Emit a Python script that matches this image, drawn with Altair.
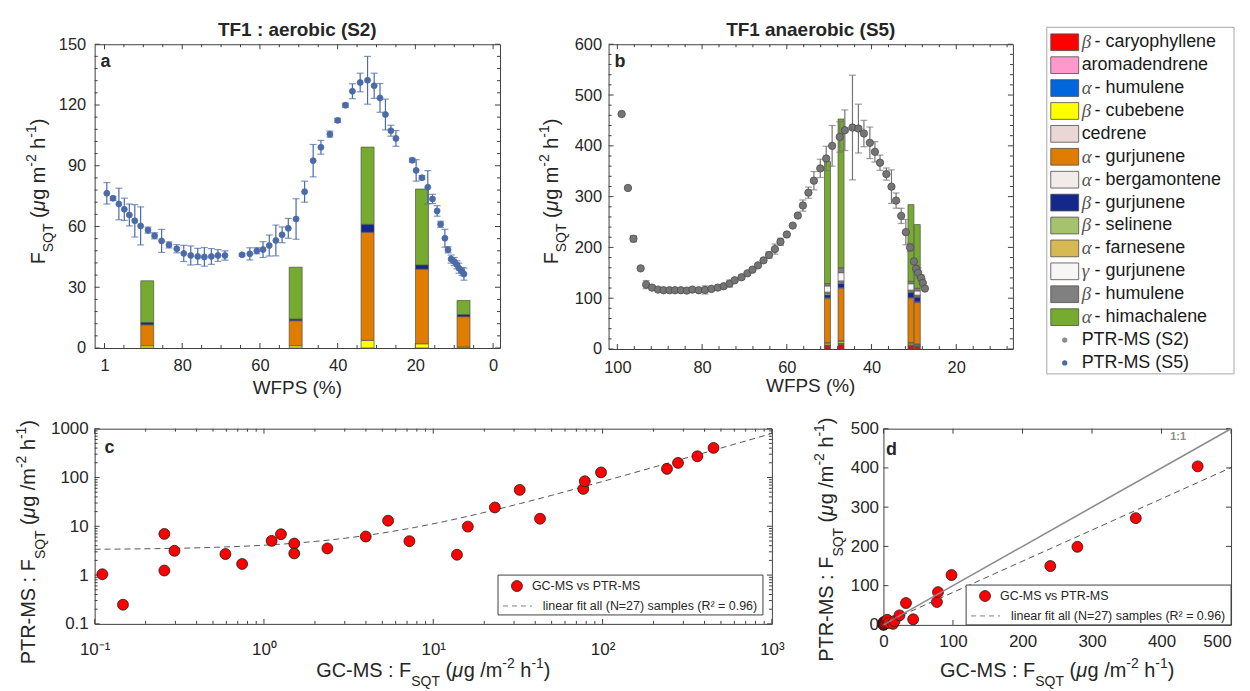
import altair as alt
import pandas as pd
import numpy as np

FONT = "Liberation Sans"
INK = "#262626"
FRAME = "#404040"

# ---------------- data ----------------
species = ["β - caryophyllene", "aromadendrene", "α - humulene", "β - cubebene", "cedrene",
           "α - gurjunene", "α - bergamontene", "β - gurjunene", "β - selinene", "α - farnesene",
           "γ - gurjunene", "β - humulene", "α - himachalene"]
species_colors = ["#FF0000", "#FF99CC", "#0066DD", "#FFFF00", "#EBD6D6", "#E07C00", "#F3EAEA",
                  "#13288A", "#A5C26F", "#D6B950", "#F8F5F5", "#808080", "#76AB2F"]
legend_greek = ["β", "", "α", "β", "", "α", "α", "β", "β", "α", "γ", "β", "α", "", ""]
legend_names = ["- caryophyllene", "aromadendrene", "- humulene", "- cubebene", "cedrene",
                "- gurjunene", "- bergamontene", "- gurjunene", "- selinene", "- farnesene",
                "- gurjunene", "- humulene", "- himachalene", "PTR-MS (S2)", "PTR-MS (S5)"]

# panel a : PTR-MS S2 (aerobic)
a_wfps = [99.4, 97.8, 96.3, 94.9, 93.6, 92.2, 90.7, 88.8, 87.1, 85.3,
          83.4, 81.4, 79.6, 77.8, 76.0, 74.3, 72.5, 70.8, 69.0, 64.6,
          62.6, 60.8, 59.2, 57.6, 55.9, 54.3, 52.7, 50.7, 48.5, 46.3,
          44.3, 42.0, 40.0, 38.0, 36.2, 34.2, 32.3, 30.6, 29.1, 27.7,
          26.3, 25.0, 20.8, 19.8, 18.3, 16.8, 15.6, 14.4, 13.5, 12.4,
          11.6, 10.8, 10.0, 9.3, 8.8, 8.0, 7.5]
a_flux = [76.4, 73.9, 71.1, 68.5, 65.7, 62.8, 60.3, 58.2, 55.4, 52.9,
          50.9, 49.0, 46.7, 45.7, 45.2, 45.0, 45.2, 45.7, 45.7, 46.0,
          46.5, 48.0, 48.6, 50.6, 53.1, 55.9, 59.1, 63.7, 77.2, 92.5,
          99.1, 105.6, 112.4, 119.9, 126.8, 131.1, 132.2, 129.5, 123.5, 115.3,
          107.3, 103.5, 92.7, 87.7, 84.1, 79.4, 73.6, 67.7, 61.1, 54.2,
          48.5, 43.9, 42.7, 41.1, 39.4, 37.8, 36.5]
a_err = [5.3, 1.0, 7.8, 5.5, 5.4, 8.0, 9.4, 1.5, 1.5, 5.7,
         1.5, 2.0, 4.0, 4.7, 4.0, 4.6, 3.9, 2.9, 2.3, 0.6,
         3.0, 1.5, 3.9, 5.2, 7.6, 3.9, 4.9, 10.0, 5.2, 8.0,
         3.4, 1.5, 1.0, 1.0, 3.7, 4.6, 11.8, 6.2, 7.1, 7.6,
         2.7, 3.9, 1.0, 5.3, 1.0, 8.2, 2.3, 2.6, 1.5, 4.4,
         1.5, 2.0, 2.0, 2.0, 2.5, 2.0, 3.0]
a_bar_wfps = [89.0, 50.8, 32.3, 18.3, 7.6]
a_bar_values = [
    [0, 0, 0, 0, 0], [0, 0, 0, 0, 0], [0, 0, 0, 0, 0],
    [1.1, 1.1, 3.8, 2.1, 0.5], [0, 0, 0, 0, 0],
    [10.4, 12.4, 53.4, 36.9, 15.0], [0, 0, 0, 0, 0],
    [1.1, 0.8, 3.9, 2.0, 1.0], [0, 0, 0, 0, 0], [0, 0, 0, 0, 0],
    [0, 0, 0, 0, 0], [0, 0, 0, 0, 0],
    [20.6, 25.6, 38.1, 37.5, 7.0]]

# panel b : PTR-MS S5 (anaerobic)
b_wfps = [99.0, 97.5, 96.2, 94.5, 93.2, 91.8, 90.4, 89.1, 87.7, 86.4,
          85.0, 83.6, 82.3, 80.8, 79.3, 77.8, 76.3, 74.9, 73.5, 72.3,
          70.7, 69.3, 68.1, 66.8, 65.5, 64.2, 62.8, 61.5, 60.0, 58.6,
          57.4, 56.2, 54.9, 53.6, 52.1, 50.7, 49.3, 47.5, 46.3, 44.5,
          43.1, 41.8, 40.4, 39.2, 38.0, 36.5, 35.3, 34.2, 33.0, 31.9,
          30.9, 30.0, 29.5, 29.0, 28.3, 27.9, 27.4]
b_flux = [462.7, 317.0, 217.0, 158.8, 126.8, 120.9, 117.0, 115.7, 115.7, 115.7,
          115.7, 115.0, 117.0, 115.7, 116.3, 118.3, 120.9, 123.5, 128.8, 135.3,
          141.2, 149.0, 156.2, 164.7, 174.5, 185.0, 196.7, 211.1, 225.5, 243.0,
          262.7, 282.4, 307.8, 331.4, 355.6, 375.2, 400.0, 417.6, 430.7, 436.0,
          434.0, 424.2, 405.9, 388.2, 366.7, 344.4, 319.6, 292.2, 262.1, 230.1,
          200.0, 172.5, 158.0, 150.0, 140.0, 130.0, 119.0]
b_err = [3, 0, 6, 0, 8, 4, 0, 0, 0, 0,
         0, 0, 0, 0, 8, 0, 0, 0, 7, 0,
         0, 0, 0, 0, 0, 6, 10, 7, 0, 0,
         0, 11, 11, 18, 18, 24, 40, 30, 40, 103,
         48, 26, 31, 20, 15, 12, 33, 15, 15, 25,
         8, 0, 8, 10, 6, 8, 0]
b_bar_wfps = [50.4, 47.2, 30.7, 29.2]
b_bar_values = [
    [6, 9, 6, 5], [1, 1.5, 1.5, 1], [1, 1, 1, 0.8], [2.5, 3, 2.5, 2], [2, 1.8, 2, 1],
    [86.8, 103.3, 87, 81.7], [1.5, 1.5, 1.5, 1.5], [5.7, 7.5, 10, 9], [3, 3, 2.5, 2],
    [2.5, 2.5, 2, 2], [12.2, 16.2, 12.5, 8.4], [4.6, 9.7, 4.5, 5.2],
    [240.2, 292.9, 151.3, 125.4]]

# panels c / d : GC-MS vs PTR-MS
gc_flux = [0.111, 0.147, 0.258, 0.258, 0.296, 0.592, 0.743, 1.11, 1.26, 1.51,
           1.51, 2.37, 3.99, 5.41, 7.23, 13.8, 16.0, 23.1, 32.4, 42.7,
           76.9, 78.5, 97.9, 240.0, 279.0, 363.0, 452.0]
ptr_flux = [1.04, 0.247, 6.98, 1.24, 3.15, 2.70, 1.69, 5.03, 6.88, 4.43,
            2.78, 3.51, 6.17, 13.0, 4.95, 2.61, 9.85, 24.3, 55.7, 14.3,
            58.3, 83.6, 127.0, 150.0, 199.0, 272.0, 404.0]
fit_slope = 0.795
fit_intercept = 3.3

BLUE = "#4A6AA8"
GRAY = "#757575"

# ---------------- helpers ----------------
AW = {' ': 278, '(': 333, ')': 333, '-': 333, '/': 278, ':': 278, '%': 889, '=': 584, '.': 278,
      'A': 667, 'C': 722, 'F': 611, 'G': 778, 'M': 833, 'P': 667, 'Q': 778, 'R': 722, 'S': 667,
      'T': 611, 'W': 944, 'g': 556, 'h': 556, 'm': 833, 'μ': 576}


def tw(s, size):
    return sum(AW.get(ch, 556) for ch in s) * size / 1000.0


def one(text):
    return alt.Chart(pd.DataFrame({"t": [text]}))


def txt(text, x, y, size, angle=0, style="normal", weight="normal", align="left",
        baseline="alphabetic", color=INK, font=FONT):
    mk = dict(align=align, baseline=baseline, font=font, fontSize=size, fontStyle=style,
              fontWeight=weight, color=color)
    if angle:
        mk["angle"] = angle
    return one(text).mark_text(**mk).encode(x=alt.value(x), y=alt.value(y), text="t:N")


def rich(segments, x0, y0, vertical, center=False):
    total = sum(tw(s[0], s[1]) for s in segments)
    pos = -total / 2 if center else 0.0
    out = []
    for seg in segments:
        t, size, shift = seg[0], seg[1], seg[2]
        style = seg[3] if len(seg) > 3 else "normal"
        lead = len(t) - len(t.lstrip(" "))
        trail = len(t) - len(t.rstrip(" "))
        core = t.strip(" ")
        pos += lead * 0.278 * size
        if vertical:
            out.append(txt(core, x0 + shift, y0 - pos, size, angle=270, style=style))
        else:
            out.append(txt(core, x0 + pos, y0 + shift, size, style=style))
        pos += tw(core, size) + trail * 0.278 * size
    return out


def anchor(x1, y1, x2, y2):
    return one("").mark_rect(opacity=0).encode(
        x=alt.value(x1), x2=alt.value(x2), y=alt.value(y1), y2=alt.value(y2))


def axis(values, size, pad, expr=None, align=None):
    kw = dict(values=values, ticks=False, domain=False, grid=False, labelFont=FONT,
              labelFontSize=size, labelColor=INK, labelPadding=pad, labelOverlap=False,
              labelFlush=False)
    if expr:
        kw["labelExpr"] = expr
    if align:
        kw["labelAlign"] = align
    return alt.Axis(**kw)


class Frame:
    """x / y encodings that share one scale and one axis definition per panel."""

    def __init__(self, xs, ax, ys, ay, W, H):
        self.xs, self.ax, self.ys, self.ay, self.W, self.H = xs, ax, ys, ay, W, H

    def X(self, f):
        return alt.X(f, scale=self.xs, axis=self.ax, title=None)

    def Y(self, f):
        return alt.Y(f, scale=self.ys, axis=self.ay, title=None)

    def ticks(self, xmaj, xmin, ymaj, ymin):
        out = []
        W, H = self.W, self.H
        for vals, ln in ((xmaj, 5), (xmin, 3)):
            if vals:
                base = alt.Chart(pd.DataFrame({"v": vals})).mark_rule(color=FRAME, strokeWidth=1)
                out.append(base.encode(x=self.X("v:Q"), y=alt.value(H), y2=alt.value(H - ln)))
                out.append(base.encode(x=self.X("v:Q"), y=alt.value(0), y2=alt.value(ln)))
        for vals, ln in ((ymaj, 5), (ymin, 3)):
            if vals:
                base = alt.Chart(pd.DataFrame({"v": vals})).mark_rule(color=FRAME, strokeWidth=1)
                out.append(base.encode(y=self.Y("v:Q"), x=alt.value(0), x2=alt.value(ln)))
                out.append(base.encode(y=self.Y("v:Q"), x=alt.value(W), x2=alt.value(W - ln)))
        return out


def stack_df(wfps, values):
    rows = []
    for j, w in enumerate(wfps):
        base = 0.0
        for i, sp in enumerate(species):
            v = values[i][j]
            if v > 0:
                rows.append(dict(wfps=w, species=sp, idx=i, lo=base, hi=base + v))
            base += v
    return pd.DataFrame(rows)


def point_df(w, f, e):
    d = pd.DataFrame({"wfps": w, "flux": f, "err": e})
    d["lo"] = d["flux"] - d["err"]
    d["hi"] = d["flux"] + d["err"]
    return d


color_scale = alt.Scale(domain=species, range=species_colors)
YT_AB = [("F", 20, 0), ("SQT", 14, 8), (" (", 20, 0), ("μ", 20, 0, "italic"), ("g m", 20, 0),
         ("-2", 14, -9), (" h", 20, 0), ("-1", 14, -9), (")", 20, 0)]
YT_CD = [("PTR-MS : F", 20, 0), ("SQT", 14, 10), (" (", 20, 0), ("μ", 20, 0, "italic"), ("g /m", 20, 0),
         ("-2", 14, -9), (" h", 20, 0), ("-1", 14, -9), (")", 20, 0)]
XT_CD = [("GC-MS : F", 20, 0), ("SQT", 14, 9), (" (", 20, 0), ("μ", 20, 0, "italic"), ("g /m", 20, 0),
         ("-2", 14, -9), (" h", 20, 0), ("-1", 14, -9), (")", 20, 0)]


def wfps_panel(W, H, xs, ys, xvals, xexpr, yvals, xmin, ymin, pts, bars, pcolor, psize, pstroke,
               bar_w, title, letter, ypad, xpad, yt_x, anchor_box, xt_y):
    fr = Frame(xs, axis(xvals, 16.5, xpad, xexpr), ys, axis(yvals, 16.5, ypad), W, H)
    layers = [anchor(*anchor_box)]
    layers += fr.ticks(xvals, xmin, yvals, ymin)
    layers.append(alt.Chart(bars).mark_bar(size=bar_w, stroke="#505050", strokeWidth=0.7).encode(
        x=fr.X("wfps:Q"), y=fr.Y("lo:Q"), y2="hi:Q",
        color=alt.Color("species:N", scale=color_scale, legend=None)))
    e = pts[pts["err"] > 0]
    layers.append(alt.Chart(e).mark_rule(color=pcolor, strokeWidth=1.2).encode(
        x=fr.X("wfps:Q"), y=fr.Y("lo:Q"), y2="hi:Q"))
    for c in ("lo", "hi"):
        layers.append(alt.Chart(e).mark_tick(color=pcolor, orient="horizontal", size=7, thickness=1.2).encode(
            x=fr.X("wfps:Q"), y=fr.Y(c + ":Q")))
    layers.append(alt.Chart(pts).mark_point(filled=True, fill=pcolor, stroke=pstroke, strokeWidth=0.8,
                                            opacity=1, size=psize).encode(
        x=fr.X("wfps:Q"), y=fr.Y("flux:Q")))
    layers.append(txt(title, W / 2, -8.4, 19, weight="bold", align="center"))
    layers.append(txt(letter, 6, 23, 18, weight="bold"))
    layers.append(txt("WFPS (%)", W / 2, xt_y, 19, align="center"))
    layers += rich(YT_AB, yt_x, 221, True)
    return alt.layer(*layers).properties(width=W, height=H)


# ---------------- panel a ----------------
WA, HA = 407, 305
xa = alt.Scale(domain=[-0.5, 101.25], reverse=True, nice=False, zero=False)
ya = alt.Scale(domain=[0, 150], nice=False, zero=False)
panel_a = wfps_panel(
    WA, HA, xa, ya, [100, 80, 60, 40, 20, 0], "datum.value == 100 ? '1' : datum.label",
    [0, 30, 60, 90, 120, 150], [v for v in range(5, 100, 5) if v % 20],
    [v for v in range(6, 150, 6) if v % 30],
    point_df(a_wfps, a_flux, a_err), stack_df(a_bar_wfps, a_bar_values), BLUE, 36, BLUE, 13,
    "TF1 : aerobic (S2)", "a", 9, 10, -50, (-84, -34, 428, 364), 351.3)

# ---------------- panel b ----------------
WB, HB = 406, 306
xb = alt.Scale(domain=[7.8, 100.9], reverse=True, nice=False, zero=False)
yb = alt.Scale(domain=[0, 600], nice=False, zero=False)
panel_b = wfps_panel(
    WB, HB, xb, yb, [100, 80, 60, 40, 20], None, [0, 100, 200, 300, 400, 500, 600],
    [v for v in range(8, 100, 4) if v % 20], [v for v in range(20, 600, 20) if v % 100],
    point_df(b_wfps, b_flux, b_err), stack_df(b_bar_wfps, b_bar_values), GRAY, 55, "#4d4d4d", 6,
    "TF1 anaerobic (S5)", "b", 7, 10.5, -51, (-86, -34, 424, 364), 349)

# ---------------- legend panel (origin aligned with panel tops at y=42) ----------------
WL, HL = 188, 306
BOX_TOP, BOX_BOTTOM = -17, 331
leg = pd.DataFrame({"i": list(range(len(legend_names))), "greek": legend_greek, "name": legend_names,
                    "species": species + ["", ""]})
yl = alt.Scale(domain=[2 / 23, 2 / 23 + HL / 23], reverse=True, nice=False, zero=False)
swatch = "M-1,-0.6L1,-0.6L1,0.6L-1,0.6Z"
leg_layers = [
    anchor(-15, -34, 196, 364),
    one("").mark_rect(fill="white", stroke="#a6a6a6", strokeWidth=1).encode(
        x=alt.value(0), x2=alt.value(WL), y=alt.value(BOX_TOP), y2=alt.value(BOX_BOTTOM)),
    alt.Chart(leg[leg.i < 13]).mark_point(shape=swatch, size=784, filled=True, opacity=1,
                                          stroke="#4d4d4d", strokeWidth=0.8).encode(
        x=alt.value(18), y=alt.Y("i:Q", scale=yl, axis=None),
        color=alt.Color("species:N", scale=color_scale, legend=None)),
    alt.Chart(leg[leg.i == 13]).mark_point(filled=True, size=28, opacity=1, fill="#8c8c8c", strokeWidth=0).encode(
        x=alt.value(18), y=alt.Y("i:Q", scale=yl, axis=None)),
    alt.Chart(leg[leg.i == 14]).mark_point(filled=True, size=28, opacity=1, fill=BLUE, strokeWidth=0).encode(
        x=alt.value(18), y=alt.Y("i:Q", scale=yl, axis=None)),
    alt.Chart(leg[leg.greek != ""]).mark_text(align="left", baseline="middle", font="Liberation Serif",
                                             fontStyle="italic", fontSize=19, color="#555555").encode(
        x=alt.value(35), y=alt.Y("i:Q", scale=yl, axis=None), text="greek:N"),
    alt.Chart(leg[leg.greek != ""]).mark_text(align="left", baseline="middle", font=FONT,
                                             fontSize=18, color="#1a1a1a").encode(
        x=alt.value(48), y=alt.Y("i:Q", scale=yl, axis=None), text="name:N"),
    alt.Chart(leg[leg.greek == ""]).mark_text(align="left", baseline="middle", font=FONT,
                                             fontSize=18, color="#1a1a1a").encode(
        x=alt.value(35), y=alt.Y("i:Q", scale=yl, axis=None), text="name:N"),
]
legend_panel = alt.layer(*leg_layers).properties(
    width=WL, height=HL, view=alt.ViewBackground(strokeOpacity=0))

# ---------------- panel c ----------------
WC, HC = 680, 196
xc = alt.Scale(type="log", domain=[0.1, 1000], nice=False)
yc = alt.Scale(type="log", domain=[0.1, 1000], nice=False)
decades = [0.1, 1, 10, 100, 1000]
log_minor = [k * 10.0 ** e for e in range(-1, 3) for k in range(2, 10)]
gcdf = pd.DataFrame({"gc": gc_flux, "ptr": ptr_flux})
fit_x = np.logspace(-1, 3, 90)
fitdf_c = pd.DataFrame({"gc": fit_x, "ptr": fit_slope * fit_x + fit_intercept})


def fit_legend(x0, y0):
    return [
        one("").mark_rect(fill="white", stroke=FRAME, strokeWidth=1).encode(
            x=alt.value(x0), x2=alt.value(x0 + 266), y=alt.value(y0), y2=alt.value(y0 + 40)),
        one("").mark_point(filled=True, fill="#FF0000", stroke="#1a1a1a", strokeWidth=0.8, opacity=1,
                           size=120).encode(x=alt.value(x0 + 19), y=alt.value(y0 + 11)),
        txt("GC-MS vs PTR-MS", x0 + 34, y0 + 11, 12.5, baseline="middle"),
        one("").mark_rule(color="#7f7f7f", strokeDash=[5, 4], strokeWidth=1).encode(
            x=alt.value(x0 + 5), x2=alt.value(x0 + 34), y=alt.value(y0 + 31)),
        txt("linear fit all (N=27) samples (R² = 0.96)", x0 + 45, y0 + 31, 12.5, baseline="middle"),
    ]


frc = Frame(xc, axis(decades, 17, 18,
                     "datum.value < 0.5 ? '10⁻¹' : datum.value < 5 ? '10⁰' : datum.value < 50 ? '10¹' : datum.value < 500 ? '10²' : '10³'"),
            yc, axis(decades, 17, 6.5, "datum.value < 0.5 ? '0.1' : format(datum.value, 'd')"), WC, HC)
c_layers = [anchor(-86, -20, 706, 262)]
c_layers += frc.ticks(decades, log_minor, decades, log_minor)
c_layers.append(alt.Chart(fitdf_c).mark_line(color="#555555", strokeDash=[6, 4], strokeWidth=1).encode(
    x=frc.X("gc:Q"), y=frc.Y("ptr:Q")))
c_layers.append(alt.Chart(gcdf).mark_point(filled=True, fill="#FF0000", stroke="#1a1a1a", strokeWidth=0.8,
                                           opacity=1, size=120).encode(x=frc.X("gc:Q"), y=frc.Y("ptr:Q")))
c_layers += fit_legend(405, 147)
c_layers.append(txt("c", 10, 24, 18, weight="bold"))
c_layers += rich(YT_CD, -60, 236.5, True)
c_layers += rich(XT_CD, WC / 2, 249.5, False, center=True)
panel_c = alt.layer(*c_layers).properties(width=WC, height=HC)

# ---------------- panel d ----------------
WD, HD = 349, 197
xd = alt.Scale(domain=[0, 500], nice=False, zero=False)
yd = alt.Scale(domain=[0, 500], nice=False, zero=False)
hund = [0, 100, 200, 300, 400, 500]
line_x = [0, 500]
one_df = pd.DataFrame({"gc": line_x, "ptr": line_x})
fitdf_d = pd.DataFrame({"gc": line_x, "ptr": [fit_slope * v + fit_intercept for v in line_x]})
last_right = {"condition": {"test": "datum.value >= 500", "value": "right"}, "value": "center"}
frd = Frame(xd, axis(hund, 17, 9, align=last_right), yd, axis(hund, 17, 5), WD, HD)
d_layers = [anchor(-84, -20, 357, 262)]
d_layers += frd.ticks(hund, [], hund, [])
d_layers.append(alt.Chart(gcdf).mark_point(filled=True, fill="#FF0000", stroke="#1a1a1a", strokeWidth=0.8,
                                           opacity=1, size=120).encode(x=frd.X("gc:Q"), y=frd.Y("ptr:Q")))
d_layers.append(alt.Chart(one_df).mark_line(color="#8c8c8c", strokeWidth=1.6).encode(
    x=frd.X("gc:Q"), y=frd.Y("ptr:Q")))
d_layers.append(alt.Chart(fitdf_d).mark_line(color="#555555", strokeDash=[6, 4], strokeWidth=1).encode(
    x=frd.X("gc:Q"), y=frd.Y("ptr:Q")))
d_layers += fit_legend(83, 157)
d_layers.append(txt("1:1", 288, 11, 11, weight="bold", color="#8c8c8c"))
d_layers.append(txt("d", 2.5, 26, 18, weight="bold"))
d_layers += rich(YT_CD, -51, 234, True)
d_layers += rich(XT_CD, WD / 2, 249, False, center=True)
panel_d = alt.layer(*d_layers).properties(width=WD, height=HD)

# ---------------- assemble ----------------
row1 = alt.hconcat(panel_a, panel_b, legend_panel, spacing=0)
row2 = alt.hconcat(panel_c, panel_d, spacing=0)
chart = alt.vconcat(row1, row2, spacing=0).properties(padding=0).configure_view(
    stroke=FRAME, strokeWidth=1)

chart.save("out.html", embed_options={"renderer": "svg", "actions": False})
